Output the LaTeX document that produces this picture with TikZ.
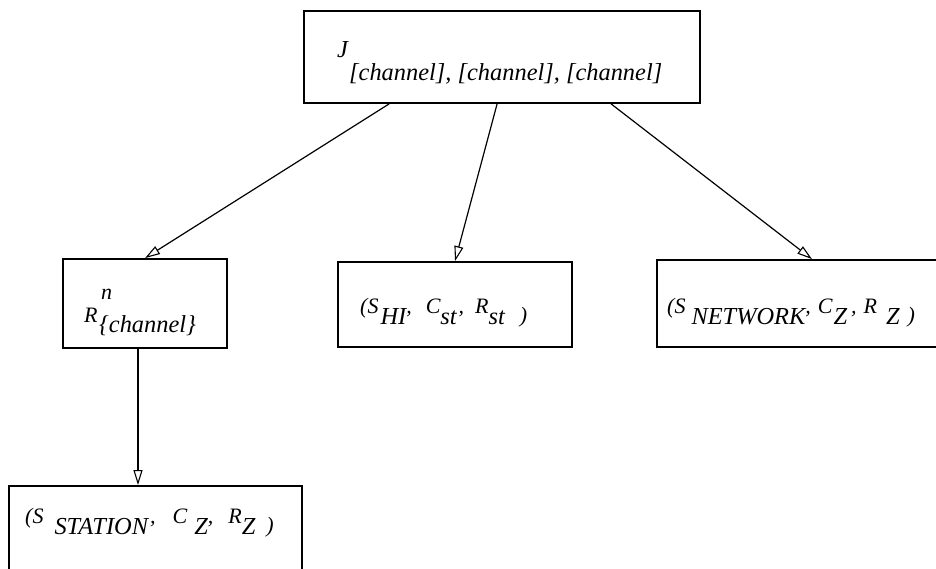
\documentclass[tikz,border=0pt]{standalone}
\usepackage{fontspec}
\setmainfont{Liberation Serif}
\usetikzlibrary{arrows.meta,calc}
\newcommand\bgf{\fontsize{24.4}{28}\selectfont\itshape}
\newcommand\smf{\fontsize{22}{26}\selectfont\itshape}
\newcommand\lo[1]{\raisebox{-11pt}{\bgf #1}}
\newcommand\sm[1]{{\smf #1}}
\begin{document}
\begin{tikzpicture}[x=1pt,y=-1pt,
  box/.style={draw,line width=1.8pt,rectangle,inner sep=0pt},
  arr/.style={line width=1.2pt,-{Triangle[open,length=15pt,width=9pt,line width=1.1pt]}},
  lbl/.style={anchor=base west,inner sep=0pt}]
\useasboundingbox (0,0) rectangle (936,569);
% boxes
\node[box,minimum width=396pt,minimum height=92pt] (top) at (502,57) {};
\node[box,minimum width=164pt,minimum height=89pt] (rbox) at (145,303.5) {};
\node[box,minimum width=234pt,minimum height=85pt] (hibox) at (455,304.5) {};
\node[box,minimum width=280pt,minimum height=87pt] (netbox) at (797,303.5) {};
\node[box,minimum width=293pt,minimum height=114pt] (stbox) at (155.5,543) {};
% texts
\node[lbl] (tJ) at (337,58) {\bgf J};
\node[lbl] (tch) at (349,81) {\bgf [channel], [channel], [channel]};
\node[lbl] (tR) at (84,322) {\smf R};
\node[lbl] (tn) at (101,299) {\smf n};
\node[lbl] (tRc) at (99,332) {\bgf \{channel\}};
\node[lbl] (thi) at (360,313) {\sm{(S}\hspace{2pt}\lo{HI}\sm{,}\hspace{14pt}\sm{C}\lo{st}\hspace{2pt}\sm{,}\hspace{11pt}\sm{R}\lo{st}\hspace{15pt}\raisebox{-9pt}{\smf )}};
\node[lbl] (tnet) at (667,313) {\sm{(S}\hspace{6pt}\lo{NETWORK}\sm{,}\hspace{7pt}\sm{C}\hspace{1pt}\lo{Z}\hspace{4pt}\sm{,}\hspace{7pt}\sm{R}\hspace{9pt}\lo{Z}\hspace{8pt}\raisebox{-9pt}{\smf )}};
\node[lbl] (tst) at (25,523) {\sm{(S}\hspace{11pt}\lo{STATION}\hspace{2pt}\sm{,}\hspace{17pt}\sm{C}\hspace{7pt}\lo{Z}\sm{,}\hspace{15pt}\sm{R}\lo{Z}\hspace{11pt}\raisebox{-9pt}{\smf )}};
% arrows
\draw[arr] ([xshift=86pt]top.south west) -- (rbox.north);
\draw[arr] ([xshift=194pt]top.south west) -- (hibox.north);
\draw[arr] ([xshift=308pt]top.south west) -- ([xshift=15pt]netbox.north);
\draw[arr] ([xshift=-7pt]rbox.south) -- ([xshift=-17.5pt]stbox.north);
\end{tikzpicture}
\end{document}
